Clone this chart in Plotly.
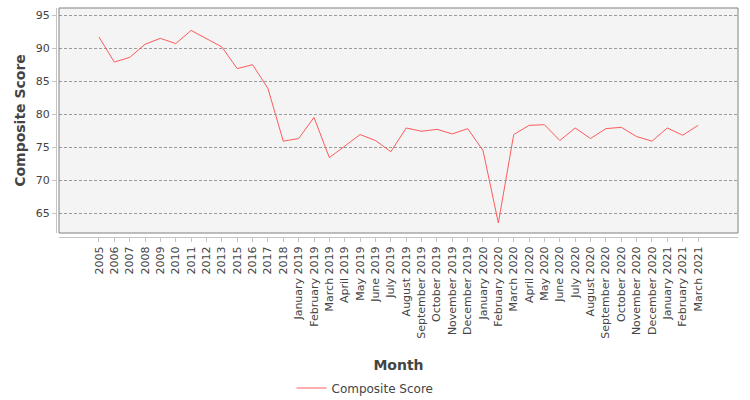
import plotly.graph_objects as go

categories = [
    "2005", "2006", "2007", "2008", "2009", "2010", "2011", "2012", "2013",
    "2015", "2016", "2017", "2018",
    "January 2019", "February 2019", "March 2019", "April 2019", "May 2019",
    "June 2019", "July 2019", "August 2019", "September 2019", "October 2019",
    "November 2019", "December 2019",
    "January 2020", "February 2020", "March 2020", "April 2020", "May 2020",
    "June 2020", "July 2020", "August 2020", "September 2020", "October 2020",
    "November 2020", "December 2020",
    "January 2021", "February 2021", "March 2021",
]

composite_score = [
    91.7, 87.9, 88.6, 90.6, 91.5, 90.7, 92.7, 91.4, 90.2,
    86.9, 87.5, 83.9, 75.9,
    76.3, 79.5, 73.4, 75.1, 76.9, 76.0, 74.3, 77.9, 77.4, 77.7, 77.0, 77.8,
    74.5, 63.5, 76.9, 78.3, 78.4, 76.0, 77.9, 76.3, 77.8, 78.0, 76.6, 75.9,
    77.9, 76.8, 78.3,
]

y_ticks = [65, 70, 75, 80, 85, 90, 95]

W, H = 750, 400
ml, mr, mt, mb = 56, 12, 8, 163
pw = W - ml - mr
ph = H - mt - mb
xd0 = 3 / pw
yd0 = 4 / ph

fig = go.Figure()
fig.add_trace(go.Scatter(
    x=categories, y=composite_score, mode="lines",
    line=dict(color="#ff5b5b", width=1),
    name="Composite Score",
))

fig.update_layout(
    width=W, height=H,
    margin=dict(l=ml, r=mr, t=mt, b=mb, autoexpand=False),
    paper_bgcolor="white",
    plot_bgcolor="#f4f4f4",
    font=dict(family="DejaVu Sans", color="#444444", size=11),
    showlegend=True,
    legend=dict(
        orientation="h", x=(365 - ml) / pw, xanchor="center",
        y=(237 - 388) / ph, yanchor="middle",
        font=dict(size=12, color="#444444"),
        bgcolor="rgba(0,0,0,0)",
    ),
    xaxis=dict(
        type="category",
        domain=[xd0, 1],
        anchor="free", position=0,
        range=[-2.6, len(categories) - 1 + 2.6],
        showgrid=False,
        showline=True, linecolor="#c4c4c4", linewidth=1,
        ticks="outside", ticklen=4, tickcolor="#c4c4c4",
        tickangle=-90,
        tickfont=dict(size=11, color="#444444"),
        title=dict(text="<b>Month</b>", font=dict(size=14, color="#444444"), standoff=22),
        zeroline=False,
        automargin=False,
    ),
    yaxis=dict(
        domain=[yd0, 1],
        anchor="free", position=0,
        range=[61.97, 96.1],
        tickvals=y_ticks,
        showgrid=True, gridcolor="#9a9a9a", gridwidth=1, griddash="3px,2px",
        showline=True, linecolor="#c4c4c4", linewidth=1,
        ticks="outside", ticklen=4, tickcolor="#c4c4c4",
        tickfont=dict(size=11, color="#444444"),
        title=dict(text="<b>Composite Score</b>", font=dict(size=14, color="#444444"), standoff=5),
        zeroline=False,
        automargin=False,
    ),
    shapes=[dict(
        type="rect", xref="paper", yref="paper",
        x0=xd0, x1=1, y0=yd0, y1=1,
        line=dict(color="#808080", width=1), layer="above",
    )],
)

fig.write_html(
    "out.html",
    config={"displayModeBar": False},
    post_script="document.body.style.margin='0';document.body.style.overflow='hidden';",
)
